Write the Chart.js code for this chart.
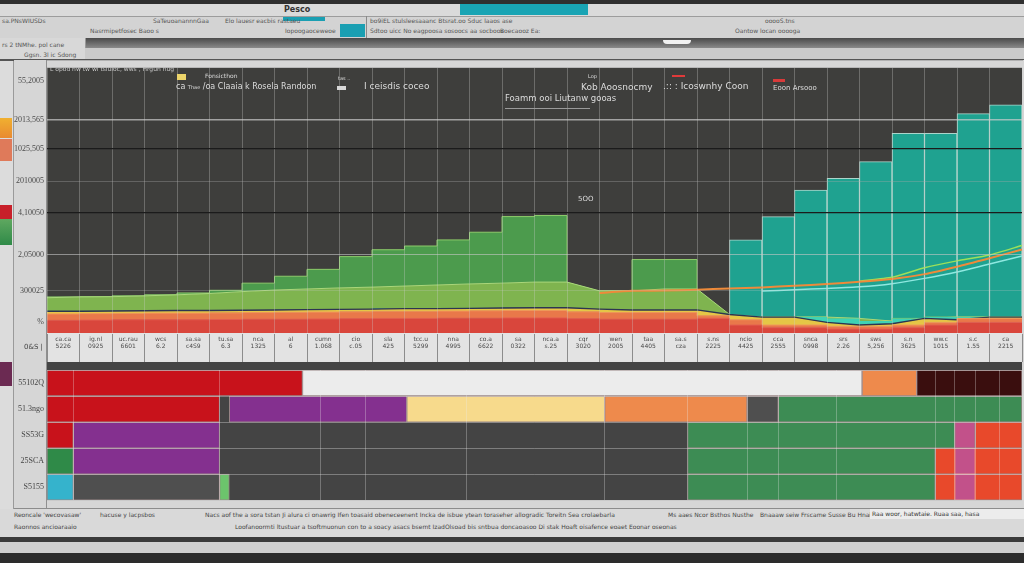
<!DOCTYPE html>
<html>
<head>
<meta charset="utf-8">
<script src="https://cdn.jsdelivr.net/npm/chart.js@4.4.1/dist/chart.umd.min.js"></script>
<style>
html,body{margin:0;padding:0;}
body{width:1024px;height:563px;position:relative;overflow:hidden;background:#d4d4d4;font-family:"DejaVu Sans",sans-serif;}
.abs{position:absolute;}
.t{position:absolute;white-space:nowrap;color:#555;font-size:7px;line-height:1;}
.lg{position:absolute;white-space:nowrap;color:#dcdcdc;font-size:8px;line-height:1;}
canvas{position:absolute;}
</style>
</head>
<body>
<!-- window chrome -->
<div class="abs" style="left:0;top:0;width:1024px;height:4px;background:#2f2f2f"></div>
<div class="abs" style="left:0;top:4px;width:1024px;height:12px;background:#dadada;border-bottom:1px solid #9c9c9c"></div>
<div class="t" style="left:284px;top:6px;font-size:8px;color:#333;font-weight:bold">Pesco</div>
<div class="abs" style="left:460px;top:4px;width:128px;height:11px;background:#19a4b4"></div>
<div class="abs" style="left:0;top:17px;width:1024px;height:21px;background:#d3d3d3"></div>
<div class="abs" style="left:283px;top:17px;width:42px;height:4px;background:#1a9fb2"></div>
<div class="abs" style="left:340px;top:24px;width:25px;height:13px;background:#1a9fb2"></div>
<div class="abs" style="left:366px;top:16px;width:1px;height:22px;background:#8a8a8a"></div>
<div class="t" style="left:2px;top:18px;font-size:6px">sa.PNsWIUSDs</div>
<div class="t" style="left:153px;top:18px;font-size:6px">SaTeuoanannnGaa</div>
<div class="t" style="left:225px;top:18px;font-size:6px">Elo lauesr eacbis rastaeu</div>
<div class="t" style="left:370px;top:18px;font-size:6px">bo9iEL stulsleesaaanc Btsrat.oo Sduc laaos ase</div>
<div class="t" style="left:765px;top:18px;font-size:6px">ooooS.tns</div>
<div class="t" style="left:90px;top:28px;font-size:6px">Nasrmipetfosec Baoo s</div>
<div class="t" style="left:285px;top:28px;font-size:6px">Iopoogaoceweoe</div>
<div class="t" style="left:370px;top:28px;font-size:6px">Sdtoo uicc No eagpoosa sosoocs aa socboos</div>
<div class="t" style="left:500px;top:28px;font-size:6px">Boecaooz Ea:</div>
<div class="t" style="left:735px;top:28px;font-size:6px">Oantow locan ooooga</div>
<div class="abs" style="left:85px;top:38px;width:939px;height:10px;background:linear-gradient(#4a4a4a,#8a8a8a)"></div>
<div class="abs" style="left:663px;top:40px;width:28px;height:4px;background:#f2f2f2;border-radius:0 0 6px 6px"></div>
<div class="abs" style="left:0;top:38px;width:85px;height:22px;background:#d8d8d8;border-right:1px solid #999"></div>
<div class="t" style="left:2px;top:42px;font-size:6px">rs 2 tNMhe. pol cane</div>
<div class="t" style="left:24px;top:52px;font-size:6px">Ggsn. 3l ic Sdong</div>
<div class="abs" style="left:85px;top:48px;width:939px;height:11px;background:#cbcbcb"></div>
<div class="abs" style="left:0;top:59px;width:1024px;height:2px;background:#555"></div>

<!-- left strip -->
<div class="abs" style="left:0;top:61px;width:13px;height:448px;background:#dcdcdc;border-right:1px solid #9a9a9a"></div>
<div class="abs" style="left:0;top:118px;width:12px;height:20px;background:linear-gradient(#f0b030,#e98a30)"></div>
<div class="abs" style="left:0;top:139px;width:12px;height:22px;background:#df7a5a"></div>
<div class="abs" style="left:0;top:205px;width:12px;height:14px;background:#c8202a"></div>
<div class="abs" style="left:0;top:219px;width:12px;height:26px;background:linear-gradient(#5fa860,#2f8a48)"></div>
<div class="abs" style="left:0;top:362px;width:12px;height:24px;background:#6b2a52"></div>

<canvas id="topChart" width="1010" height="304" style="left:14px;top:60px"></canvas>
<canvas id="bottomChart" width="1010" height="146" style="left:14px;top:362px"></canvas>

<!-- in-chart legend notes -->
<div class="lg" style="left:50px;top:66px;font-size:6px;color:#c8c8c8">L opod  hw tw  wi tsluloc, wws , Hrgun hug</div>
<div class="abs" style="left:177px;top:74px;width:9px;height:6px;background:#ecd46a"></div>
<div class="lg" style="left:205px;top:73px;font-size:6px">Fonsicthon</div>
<div class="lg" style="left:176px;top:83px;font-size:8px">ca <span style="font-size:5px">Thae</span> /oa Claaia k Rosela Randoon</div>
<div class="abs" style="left:337px;top:86px;width:9px;height:4px;background:#d8d8d8"></div>
<div class="lg" style="left:338px;top:76px;font-size:5px">tas ..</div>
<div class="lg" style="left:364px;top:82px;font-size:9px">I ceisdis coceo</div>
<div class="lg" style="left:588px;top:74px;font-size:5px">Lop</div>
<div class="lg" style="left:581px;top:83px;font-size:9px">Kob Aoosnocmy</div>
<div class="lg" style="left:505px;top:94px;font-size:8.5px">Foamm ooi Liutanw gooas</div>
<div class="abs" style="left:505px;top:108px;width:85px;height:1px;background:#9a9a9a"></div>
<div class="abs" style="left:672px;top:75px;width:13px;height:2px;background:#e03a3a"></div>
<div class="lg" style="left:663px;top:82px;font-size:9px">.:: :  Icoswnhy Coon</div>
<div class="abs" style="left:773px;top:79px;width:12px;height:3px;background:#d83a3a"></div>
<div class="lg" style="left:773px;top:85px;font-size:7px">Eoon  Arsooo</div>
<div class="lg" style="left:578px;top:196px;font-size:7px">5OO</div>
<div class="t" style="left:24px;top:344px;font-size:7px;color:#444">0&amp;S |</div>

<!-- footer -->
<div class="abs" style="left:14px;top:508px;width:1010px;height:1px;background:#8c8c8c"></div>
<div class="abs" style="left:0;top:509px;width:1024px;height:28px;background:#d9d9d9"></div>
<div class="t" style="left:14px;top:512px;font-size:6px;color:#444">Reoncale 'wecovasaw'</div>
<div class="t" style="left:14px;top:524px;font-size:6px;color:#444">Raonnos ancioaraaio</div>
<div class="t" style="left:100px;top:512px;font-size:6px;color:#444">hacuse y lacpsbos</div>
<div class="t" style="left:205px;top:512px;font-size:6px;color:#444">Nacs aof the a sora tstan Ji alura ci onawrig Ifen toasaid obeneceenent Incka de isbue ytean toraseher allogradic Toreitn Sea crolaebarla</div>
<div class="t" style="left:668px;top:512px;font-size:6px;color:#444">Ms aaes Ncor Bsthos Nusthe</div>
<div class="t" style="left:760px;top:512px;font-size:6px;color:#444">Bnaaaw seiw Frscame Susse Bu Hnai</div>
<div class="abs" style="left:870px;top:509px;width:154px;height:10px;background:#ececec"></div>
<div class="t" style="left:872px;top:511px;font-size:6px;color:#333">Raa woor, hatwtaie.  Ruaa saa, hasa</div>
<div class="t" style="left:235px;top:524px;font-size:6px;color:#444">Loofanoormti ltustuar a tsoftmuonun con to a soacy asacs bsemt IzadOlsoad bis sntbua doncaoasoo Di stak Hoaft oisafence eoaet Eoonar oseonas</div>
<div class="abs" style="left:0;top:537px;width:1024px;height:5px;background:#3a3a3a"></div>
<div class="abs" style="left:0;top:542px;width:1024px;height:11px;background:#cfcfcf"></div>
<div class="abs" style="left:0;top:553px;width:1024px;height:10px;background:#2c2c2c"></div>

<script>
// ---------- TOP CHART DATA ----------
// 30 category columns (tick boxes + teal bars)
const topCategories = [
  ['ca.ca','5226'],['ig.nl','0925'],['uc.rau','6601'],['wcs','6.2'],['sa.sa','c4S9'],
  ['tu.sa','6.3'],['nca','1325'],['al','6'],['cumn','1.068'],['cio','c.05'],
  ['sla','425'],['tcc.u','5299'],['nna','4995'],['co.a','6622'],['sa','0322'],
  ['nca.a','s.25'],['cqr','3020'],['wen','2005'],['taa','4405'],['sa.s','cza'],
  ['s.ns','2225'],['ncio','4425'],['cca','2555'],['snca','0998'],['srs','2.26'],
  ['sws','5,256'],['s.n','3625'],['ww.c','1015'],['s.c','1.55'],['ca','2215']
];
// 31 edge samples for the stacked areas (column boundaries, left edge to right edge)
const edgeLabels = ['e0','e1','e2','e3','e4','e5','e6','e7','e8','e9','e10','e11','e12','e13','e14','e15',
  'e16','e17','e18','e19','e20','e21','e22','e23','e24','e25','e26','e27','e28','e29','e30'];
const yTickValues = [4.1, 15.9, 29.5, 45.4, 57.2, 69.4, 80.4, 95.2];
const yTickLabels = ['%', '300025', '2,05000', '4,10050', '2010005', '1025,505', '2013,565', '55,2005'];

const redBand = [4.8,4.8,4.9,5,5,5,5.1,5.2,5.2,5.3,5.4,5.5,5.5,5.6,5.6,5.7,5.7,5.4,5.2,5.2,5.2, 5.5,3,2,2,1.5,1.5,2,3,4,4];
const salmonBand = [2.4,2.4,2.4,2.4,2.5,2.5,2.5,2.5,2.6,2.6,2.6,2.7,2.7,2.7,2.8,2.8,2.8,2.6,2.5,2.5,2.5, 1,2,1,1,1,1,1,1,1.5,1.5];
const yellowBand = [1,1,1,1,1,1,1,1,1,1,1,1,1,1,1,1,1,1,1,1,1, 0.5,1,3,1,0.5,1,2.5,1,0.5,0.5];
const mintBand = [0,0,0,0,0,0,0,0,0,0,0,0,0,0,0,0,0,0,0,0,0, 0,0,0,2,2.5,1,0,1,0,0];
const lightGreenBand = [5.1,5.4,5.4,5.6,5.9,6.4,7.0,7.5,7.8,8.1,8.3,8.5,8.9,9.2,9.4,9.7,9.7,6.9,7.2,7.9,7.9, 0,0,0,0,0,0,0,0,0,0];
const darkGreenBand = [0,0,0,0,0,0.2,0.5,2.6,4.8,7.0,11.5,13.7,14.7,16.6,19.2,24.7,25.1,0,0,11.1,11.1, 0,0,0,0,0,0,0,0,0,0];
const tealBars = [null,null,null,null,null,null,null,null,null,null,null,null,null,null,null,null,null,null,null,null,null, 35.1,43.9,53.9,58.3,64.6,75.3,75.3,82.7,86.0];
const trendOrange = [null,null,null,null,null,null,null,null,null,null,null,null,null,null,null,null,null, 15.1,15.9,16.0,16.3,16.8,17.2,17.8,18.5,19.3,20.4,22.2,25.0,28.2,31.5];
const trendCyan = [null,null,null,null,null,null,null,null,null,null,null,null,null,null,null,null,null,null,null,null,null,null, 15.8,16.3,16.8,17.4,18.6,20.6,23.0,26.0,29.0];
const trendLime = [null,null,null,null,null,null,null,null,null,null,null,null,null,null,null,null,null,null,null,null,null,null,null,null,null, 19.6,21.0,24.6,27.2,29.4,33.0];

// ---------- BOTTOM CHART DATA ----------
const bottomRows = ['55102Q', '51.3ngo', 'SS53G', '25SCA', 'S5155'];
const bottomTicks = [2.7, 17.7, 28, 32.7, 43, 57.2, 65.7, 71.8, 75, 81, 91.1, 93.1, 95.2, 97.7];
const segRed       = [[0,26.2],[0,17.7],[0,2.7],null,null];
const segWhite     = [[26.2,83.6],null,null,null,null];
const segOrange    = [[83.6,89.2],[57.2,71.8],null,null,null];
const segDarkRed   = [[89.2,100],null,null,null,null];
const segPurple    = [null,[18.7,36.9],[2.7,17.7],[2.7,17.7],null];
const segYellow    = [null,[36.9,57.2],null,null,null];
const segCharcoal  = [null,[71.8,75],null,null,[2.7,17.7]];
const segPink      = [null,null,[93.1,95.2],[93.1,95.2],[93.1,95.2]];
const segVermilion = [null,null,[95.2,100],[91.1,100],[91.1,100]];
const segGreen     = [null,[75,100],[65.7,93.1],[65.7,91.1],[65.7,91.1]];
const segGreenLeft = [null,null,null,[0,2.7],null];
const segLime      = [null,null,null,null,[17.7,18.7]];
const segCyan      = [null,null,null,null,[0,2.7]];

// ---------- PLUGINS ----------
const panelBg = {
  id: 'panelBg',
  beforeDraw(chart, args, o) {
    const {ctx, chartArea: a, width, height} = chart;
    ctx.save();
    ctx.fillStyle = o.page; ctx.fillRect(0, 0, width, height);
    ctx.fillStyle = o.plot;
    const top = o.fromTop ? 0 : a.top;
    ctx.fillRect(a.left, top, a.right - a.left, a.bottom - top);
    if (o.tickRow) { ctx.fillStyle = o.tickRow; ctx.fillRect(a.left, a.bottom, a.right - a.left, height - a.bottom); }
    ctx.fillStyle = '#8f8f8f';
    ctx.fillRect(a.left - 1, 0, 1, height);
    ctx.restore();
  }
};

const ygridColors = ['rgba(0,0,0,0)','rgba(200,200,200,0.25)','rgba(200,200,200,0.6)','#1b1b1b','rgba(170,170,170,0.35)','#1b1b1b','rgba(205,205,205,0.7)','rgba(0,0,0,0)'];
const ygridWidths = [1,1,1,1.3,1,1.3,1.5,1];

const areaCommon = { type: 'line', xAxisID: 'x2', yAxisID: 'y', pointRadius: 0, borderWidth: 1, order: 1, tension: 0, stepped: 'after' };
const trendCommon = { type: 'line', xAxisID: 'x2', yAxisID: 'y2', pointRadius: 0, order: 0, fill: false, tension: 0.2 };

new Chart(document.getElementById('topChart'), {
  type: 'bar',
  data: {
    labels: topCategories,
    datasets: [
      { ...trendCommon, label: 'Trend A', data: trendOrange, borderColor: '#ee8a3a', borderWidth: 2 },
      { ...trendCommon, label: 'Trend B', data: trendCyan, borderColor: '#8ee8e0', borderWidth: 1.5 },
      { ...trendCommon, label: 'Trend C', data: trendLime, borderColor: '#9be05a', borderWidth: 1.5 },
      { ...areaCommon, label: 'Red', data: redBand, backgroundColor: '#d9463c', borderColor: '#e46050', fill: 'origin' },
      { ...areaCommon, label: 'Salmon', data: salmonBand, backgroundColor: '#e9784a', borderColor: '#f09a5a', fill: '-1' },
      { ...areaCommon, label: 'Yellow', data: yellowBand, backgroundColor: '#e5c646', borderColor: '#2d3552', borderWidth: 1.4, stepped: false, fill: '-1' },
      { ...areaCommon, label: 'Mint', data: mintBand, backgroundColor: '#3fd2b4', borderColor: 'rgba(0,0,0,0)', borderWidth: 0, fill: '-1' },
      { ...areaCommon, label: 'Light green', data: lightGreenBand, backgroundColor: '#7fb44f', borderColor: '#a9d77a', stepped: false, fill: '-1' },
      { ...areaCommon, label: 'Green', data: darkGreenBand, backgroundColor: '#4c9b4d', borderColor: '#8ccb6a', fill: '-1' },
      { type: 'bar', label: 'Teal', data: tealBars, xAxisID: 'x', yAxisID: 'y2', grouped: false, backgroundColor: '#1fa290', borderColor: 'rgba(190,240,228,0.85)', borderWidth: 1, borderSkipped: 'bottom', barPercentage: 1, categoryPercentage: 1, order: 2 }
    ]
  },
  plugins: [panelBg],
  options: {
    responsive: false, animation: false,
    layout: { padding: { top: 2, right: 2, left: 0, bottom: 0 } },
    plugins: {
      legend: { display: false }, tooltip: { enabled: false },
      panelBg: { page: '#d6d6d6', plot: '#3e3e3c', tickRow: '#e3e3e3' }
    },
    scales: {
      x: {
        type: 'category', offset: true,
        grid: { color: 'rgba(205,205,205,0.32)', tickColor: '#8c8c8c', tickLength: 31, offset: true, z: 1 },
        border: { color: '#8c8c8c' },
        ticks: { autoSkip: false, maxRotation: 0, padding: -28, color: '#4a4a4a', font: { family: 'DejaVu Sans', size: 6 } },
        afterFit: s => { s.height = 31; }
      },
      x2: { type: 'category', axis: 'x', labels: edgeLabels, offset: false, display: false },
      y: {
        stacked: true, min: 0, max: 100,
        afterBuildTicks: axis => { axis.ticks = yTickValues.map(v => ({ value: v })); },
        ticks: { color: '#4a4a4a', padding: 3, font: { family: 'Liberation Serif', size: 8 }, callback: (v, i) => yTickLabels[i] },
        grid: { color: c => ygridColors[c.index], lineWidth: c => ygridWidths[c.index], drawTicks: false, z: 1 },
        border: { display: false },
        afterFit: s => { s.width = 33; }
      },
      y2: { display: false, min: 0, max: 100, stacked: false }
    }
  }
});

new Chart(document.getElementById('bottomChart'), {
  type: 'bar',
  data: {
    labels: bottomRows,
    datasets: [
      { label: 'Cyan', data: segCyan, backgroundColor: '#35b3cc' },
      { label: 'Lime', data: segLime, backgroundColor: '#6cc46c' },
      { label: 'Green left', data: segGreenLeft, backgroundColor: '#2f8a48' },
      { label: 'Pink', data: segPink, backgroundColor: '#c2518a' },
      { label: 'Vermilion', data: segVermilion, backgroundColor: '#e8492b' },
      { label: 'Red', data: segRed, backgroundColor: '#c8121b' },
      { label: 'White', data: segWhite, backgroundColor: '#ececec' },
      { label: 'Orange', data: segOrange, backgroundColor: '#ee8a4c' },
      { label: 'Dark red', data: segDarkRed, backgroundColor: '#3a0e0e' },
      { label: 'Purple', data: segPurple, backgroundColor: '#84308f' },
      { label: 'Yellow', data: segYellow, backgroundColor: '#f7da8c' },
      { label: 'Charcoal', data: segCharcoal, backgroundColor: '#4f4f4f' },
      { label: 'Green', data: segGreen, backgroundColor: '#3d8c54' }
    ]
  },
  plugins: [panelBg],
  options: {
    indexAxis: 'y', responsive: false, animation: false,
    layout: { padding: { top: 8, right: 2, left: 0, bottom: 0 } },
    datasets: { bar: { grouped: false, barPercentage: 1, categoryPercentage: 1, borderWidth: 1, borderColor: 'rgba(255,215,215,0.45)', borderSkipped: false } },
    plugins: {
      legend: { display: false }, tooltip: { enabled: false },
      panelBg: { page: '#d6d6d6', plot: '#444444', fromTop: true }
    },
    scales: {
      x: {
        min: 0, max: 100,
        afterBuildTicks: axis => { axis.ticks = bottomTicks.map(v => ({ value: v })); },
        ticks: { display: false },
        grid: { color: 'rgba(235,235,235,0.3)', drawTicks: false, z: 1 },
        border: { display: false },
        afterFit: s => { s.height = 0; }
      },
      y: {
        ticks: { color: '#444', padding: 3, font: { family: 'Liberation Serif', size: 8 } },
        grid: { color: 'rgba(235,235,235,0.35)', drawTicks: false, offset: true, z: 1 },
        border: { display: false },
        afterFit: s => { s.width = 33; }
      }
    }
  }
});
</script>
</body>
</html>
